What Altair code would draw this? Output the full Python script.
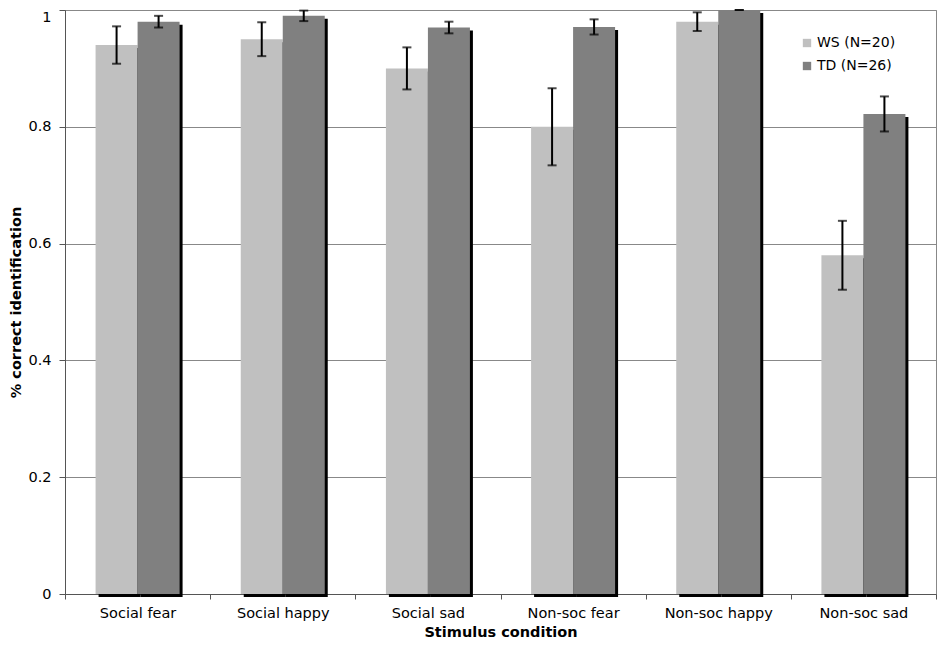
import altair as alt
import pandas as pd

categories = ["Social fear", "Social happy", "Social sad", "Non-soc fear", "Non-soc happy", "Non-soc sad"]
series = ["WS (N=20)", "TD (N=26)"]
ws_values = [0.94, 0.95, 0.90, 0.80, 0.98, 0.58]
ws_errors = [0.032, 0.029, 0.036, 0.066, 0.016, 0.059]
td_values = [0.98, 0.99, 0.97, 0.971, 1.0, 0.822]
td_errors = [0.010, 0.009, 0.010, 0.013, 0.0, 0.030]
colors = ["#C0C0C0", "#808080"]

rows = []
for i, c in enumerate(categories):
    rows.append({"cond": c, "group": series[0], "v": ws_values[i],
                 "lo": ws_values[i] - ws_errors[i], "hi": ws_values[i] + ws_errors[i]})
    rows.append({"cond": c, "group": series[1], "v": td_values[i],
                 "lo": td_values[i] - td_errors[i], "hi": td_values[i] + td_errors[i]})
df = pd.DataFrame(rows)

FONT = "DejaVu Sans"

x_enc = alt.X("cond:N", sort=categories, title="Stimulus condition",
              scale=alt.Scale(paddingInner=0, paddingOuter=0),
              axis=alt.Axis(labelAngle=0, tickBand="extent", tickSize=5,
                            labelPadding=7, titlePadding=6,
                            domainColor="#555555", tickColor="#555555",
                            labelFontSize=14.5, titleFontSize=14.5,
                            labelColor="black", titleColor="black"))
xo_enc = alt.XOffset("group:N", sort=series,
                     scale=alt.Scale(paddingOuter=0.728, paddingInner=0))
xo_shadow = alt.XOffset("group:N", sort=series,
                        scale=alt.Scale(paddingOuter=0.728, paddingInner=0, align=0.549))
y_scale = alt.Scale(domain=[0, 1], nice=False)
y_enc = alt.Y("v:Q", scale=y_scale, title="% correct identification",
              axis=alt.Axis(values=[0, 0.2, 0.4, 0.6, 0.8, 1.0], format="~g",
                            tickSize=6, labelPadding=8, titlePadding=4,
                            labelBaseline={"condition": {"test": "datum.value == 1", "value": "top"},
                                           "value": "middle"},
                            grid=True, gridColor="#888888", gridWidth=1,
                            domainColor="#555555", tickColor="#555555",
                            labelFontSize=14.5, titleFontSize=14.5,
                            labelColor="black", titleColor="black"))

base = alt.Chart(df)

shadow = base.mark_bar(color="black", yOffset=3, y2Offset=3).encode(
    x=x_enc, xOffset=xo_shadow, y=y_enc
)

bars = base.mark_bar().encode(
    x=x_enc, xOffset=xo_enc, y=y_enc,
    color=alt.Color("group:N", sort=series,
                    scale=alt.Scale(domain=series, range=colors),
                    legend=alt.Legend(title=None, orient="none", legendX=735, legendY=26,
                                      symbolType="square", symbolSize=70,
                                      symbolStrokeWidth=0, labelFontSize=14,
                                      labelOffset=3, rowPadding=9, padding=0,
                                      labelColor="black"))
)

rules = base.mark_rule(color="black", strokeWidth=2).encode(
    x=x_enc, xOffset=xo_enc, y="lo:Q", y2="hi:Q"
)
cap_lo = base.mark_tick(color="black", thickness=2, size=9).encode(
    x=x_enc, xOffset=xo_enc, y=alt.Y("lo:Q", scale=y_scale)
)
cap_hi = base.mark_tick(color="black", thickness=2, size=9).encode(
    x=x_enc, xOffset=xo_enc, y=alt.Y("hi:Q", scale=y_scale)
)

chart = alt.layer(shadow, bars, rules, cap_lo, cap_hi).resolve_scale(
    xOffset="independent"
).properties(
    width=871, height=584,
    padding={"left": 0, "top": 1, "right": 0, "bottom": 0},
).configure(font=FONT).configure_view(
    stroke="#888888", strokeWidth=1
).configure_axis(
    titleFontWeight="bold"
).configure_legend(labelFont=FONT)

chart.save("out.html", embed_options={"renderer": "svg", "actions": False})
